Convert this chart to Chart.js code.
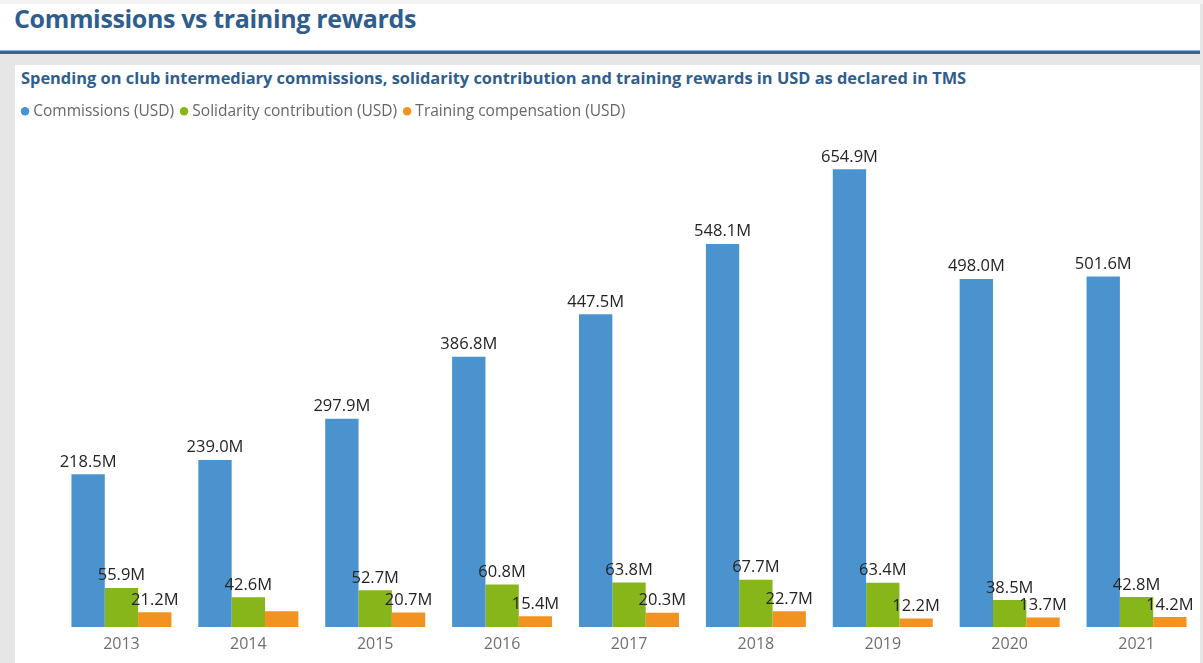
<!DOCTYPE html>
<html>
<head>
<meta charset="utf-8">
<script src="https://cdn.jsdelivr.net/npm/chart.js@4/dist/chart.umd.min.js"></script>
<style>
  html, body { margin: 0; padding: 0; }
  body { width: 1203px; height: 663px; background: #e6e6e6; position: relative; overflow: hidden; font-family: "Open Sans", sans-serif; }
  #topstrip { position: absolute; left: 0; top: 0; width: 1203px; height: 4px; background: #f2f2f2; }
  #header { position: absolute; left: 0; top: 4px; width: 1200px; height: 46px; background: #ffffff; }
  #title { margin: 0; position: absolute; left: 14px; top: 3px; font-size: 25px; line-height: 30px; letter-spacing: -0.35px; font-weight: 700; color: #2f5d8c; white-space: nowrap; }
  #rule { position: absolute; left: 0; top: 50px; width: 1200px; height: 4px; background: #3b6591; border-top: 1px solid #8fb0d0; box-sizing: border-box; }
  #panel { position: absolute; left: 15px; top: 65px; width: 1185px; height: 598px; background: #ffffff; }
  #subtitle { position: absolute; left: 21px; top: 68px; font-size: 16.4px; line-height: 20px; font-weight: 700; color: #2f5e8e; white-space: nowrap; }
  #chart { position: absolute; left: 15px; top: 94px; }
</style>
</head>
<body>
<div id="topstrip"></div>
<div id="header"></div>
<div id="title">Commissions vs training rewards</div>
<div id="rule"></div>
<div id="panel"></div>
<div id="subtitle">Spending on club intermediary commissions, solidarity contribution and training rewards in USD as declared in TMS</div>
<canvas id="chart" width="1185" height="569"></canvas>
<script>
const years = ["2013", "2014", "2015", "2016", "2017", "2018", "2019", "2020", "2021"];
const commissions = [218.5, 239.0, 297.9, 386.8, 447.5, 548.1, 654.9, 498.0, 501.6];
const solidarity = [55.9, 42.6, 52.7, 60.8, 63.8, 67.7, 63.4, 38.5, 42.8];
const training = [21.2, 22.5, 20.7, 15.4, 20.3, 22.7, 12.2, 13.7, 14.2];
const seriesNames = ["Commissions (USD)", "Solidarity contribution (USD)", "Training compensation (USD)"];
const seriesColors = ["#4a93ce", "#87b61b", "#f29321"];
const hiddenLabels = [[2, 1]]; // [dataset, index] labels hidden in the original
const yMax = 712.6;

const valueLabels = {
  id: "valueLabels",
  afterDatasetsDraw(chart) {
    const ctx = chart.ctx;
    ctx.save();
    ctx.font = "16.5px 'Open Sans'";
    ctx.fillStyle = "#252423";
    ctx.textAlign = "center";
    ctx.textBaseline = "alphabetic";
    chart.data.datasets.forEach((ds, di) => {
      const meta = chart.getDatasetMeta(di);
      meta.data.forEach((bar, i) => {
        if (hiddenLabels.some(h => h[0] === di && h[1] === i)) return;
        ctx.fillText(ds.data[i].toFixed(1) + "M", bar.x, bar.y - 7.5);
      });
    });
    ctx.restore();
  }
};

new Chart(document.getElementById("chart"), {
  type: "bar",
  data: {
    labels: years,
    datasets: [
      { label: seriesNames[0], data: commissions, backgroundColor: seriesColors[0] },
      { label: seriesNames[1], data: solidarity, backgroundColor: seriesColors[1] },
      { label: seriesNames[2], data: training, backgroundColor: seriesColors[2] }
    ]
  },
  options: {
    responsive: false,
    animation: false,
    layout: { padding: { left: 0, right: 0, top: 0, bottom: 0 } },
    datasets: { bar: { categoryPercentage: 0.788, barPercentage: 1.0 } },
    plugins: {
      title: { display: false },
      legend: {
        display: true, align: "start", position: "top",
        labels: {
          usePointStyle: true, pointStyle: "circle", boxWidth: 1, boxHeight: 6,
          color: "#666666", font: { family: "Open Sans", size: 15.5 }, padding: 9.5
        }
      },
      tooltip: { enabled: false }
    },
    scales: {
      x: {
        grid: { display: false, drawTicks: false },
        border: { display: false },
        ticks: { color: "#6f6f6f", font: { family: "Open Sans", size: 16 }, padding: 8 },
        afterFit: s => { s.height = 36; }
      },
      y: {
        min: 0, max: yMax,
        grid: { display: false },
        border: { display: false },
        ticks: { display: false },
        afterFit: s => { s.width = 43; }
      }
    }
  },
  plugins: [valueLabels]
});
</script>
</body>
</html>
